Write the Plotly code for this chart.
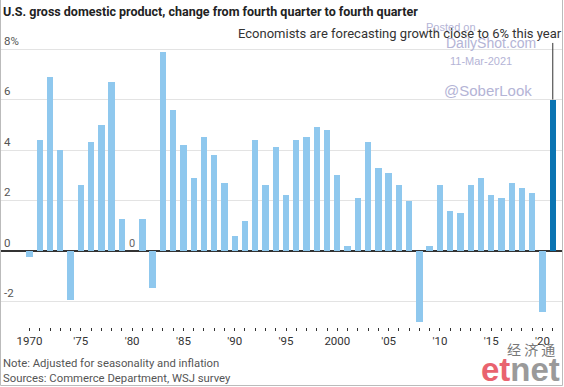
import plotly.graph_objects as go

years = list(range(1970, 2022))
gdp_change = [
    -0.25, 4.4, 6.9, 4.0, -1.95, 2.6, 4.3, 5.0, 6.7, 1.25,
    0.0, 1.25, -1.45, 7.9, 5.6, 4.2, 2.9, 4.5, 3.8, 2.7,
    0.6, 1.2, 4.4, 2.6, 4.1, 2.2, 4.4, 4.5, 4.9, 4.8,
    3.0, 0.2, 2.1, 4.3, 3.3, 3.1, 2.6, 2.0, -2.8, 0.2,
    2.6, 1.6, 1.5, 2.6, 2.9, 2.2, 2.1, 2.7, 2.5, 2.3,
    -2.4, 6.0,
]
forecast_year = 2021
x_tick_years = years
x_tick_labels = {1970: "1970", 1975: "'75", 1980: "'80", 1985: "'85", 1990: "'90",
                 1995: "'95", 2000: "2000", 2005: "'05", 2010: "'10", 2015: "'15", 2020: "'20"}
y_tick_vals = [-2, 0, 2, 4, 6, 8]
y_tick_text = ["-2", "0", "2", "4", "6", "8%"]

LIGHT = "#8fc8ee"
DARK = "#0b74b2"
colors = [DARK if y == forecast_year else LIGHT for y in years]

FONT = "Roboto"
WM = "#b4b4d6"

fig = go.Figure()
fig.add_trace(go.Bar(x=years, y=gdp_change, marker=dict(color=colors, line=dict(width=0)),
                     width=0.62, hoverinfo="x+y"))

W, H = 564, 387
ml, mr, mt, mb = 1, 2, 28, 60
pw, ph = W - ml - mr, H - mt - mb

def px_x(px):
    return (px - ml) / pw

def px_y(py):
    return (H - mb - py) / ph

def wm(text, cx, cy, size):
    return dict(text=text, x=px_x(cx), y=px_y(cy), xref="paper", yref="paper",
                xanchor="center", yanchor="middle", showarrow=False,
                font=dict(family="Liberation Sans, Arial", size=size, color=WM))

annotations = [
    dict(text="U.S. gross domestic product, change from fourth quarter to fourth quarter",
         x=px_x(1), y=px_y(11), xref="paper", yref="paper", xanchor="left", yanchor="middle",
         showarrow=False, font=dict(family=FONT, size=12.5, color="#222", weight="bold")),
    dict(text="Economists are forecasting growth close to 6% this year",
         x=px_x(564), y=px_y(33), xref="paper", yref="paper", xanchor="right", yanchor="middle",
         showarrow=False, font=dict(family=FONT, size=13, color="#333")),
    dict(text="0", x=1980, y=0, xref="x", yref="y", xanchor="center", yanchor="bottom", yshift=-1,
         showarrow=False, font=dict(family=FONT, size=11, color="#666")),
    dict(text="Note: Adjusted for seasonality and inflation",
         x=px_x(1), y=px_y(363), xref="paper", yref="paper", xanchor="left", yanchor="middle",
         showarrow=False, font=dict(family=FONT, size=11.3, color="#555")),
    dict(text="Sources: Commerce Department, WSJ survey",
         x=px_x(1), y=px_y(379), xref="paper", yref="paper", xanchor="left", yanchor="middle",
         showarrow=False, font=dict(family=FONT, size=11.3, color="#555")),
    wm("Posted on", 451, 27, 11),
    wm("DailyShot.com", 491, 43, 14),
    wm("11-Mar-2021", 481, 61, 11),
    wm("@SoberLook", 488, 90, 15),
    # logo
    dict(text="经 济 通", x=px_x(557), y=px_y(349), xref="paper", yref="paper", xanchor="right",
         yanchor="middle", showarrow=False, font=dict(family="Noto Sans CJK SC", size=14, color="#777")),
    dict(text="<span style='color:#e9636f'>et</span><span style='color:#9a9a9a'>net</span>",
         x=px_x(562), y=px_y(369), xref="paper", yref="paper", xanchor="right", yanchor="middle",
         showarrow=False, font=dict(family="Liberation Sans, Arial", size=33, weight="bold")),
]

shapes = [
    dict(type="line", xref="x", yref="y", x0=forecast_year, x1=forecast_year, y0=6.0, y1=8.24,
         line=dict(color="#333", width=1)),
    # frame
    dict(type="line", xref="paper", yref="paper", x0=px_x(0.5), x1=px_x(0.5), y0=px_y(0), y1=px_y(385.5),
         line=dict(color="#bbb", width=1)),
    dict(type="line", xref="paper", yref="paper", x0=px_x(0.5), x1=px_x(562.5), y0=px_y(385.5), y1=px_y(385.5),
         line=dict(color="#bbb", width=1)),
    dict(type="line", xref="paper", yref="paper", x0=px_x(562.5), x1=px_x(562.5), y0=px_y(0), y1=px_y(385.5),
         line=dict(color="#bbb", width=1)),
]

fig.update_layout(
    width=W, height=H,
    margin=dict(l=ml, r=mr, t=mt, b=mb, pad=0),
    paper_bgcolor="white", plot_bgcolor="white",
    showlegend=False, bargap=0,
    annotations=annotations, shapes=shapes,
    font=dict(family=FONT, color="#333"),
    xaxis=dict(range=[1967.22, 2021.9], tickmode="array", tickvals=x_tick_years,
               ticktext=[x_tick_labels.get(y, "") for y in x_tick_years],
               ticks="outside", ticklen=3, tickwidth=1, tickcolor="#333",
               showgrid=False, zeroline=False, showline=False,
               tickfont=dict(family=FONT, size=11.5, color="#333")),
    yaxis=dict(range=[-3.01, 8.832], tickmode="array", tickvals=y_tick_vals, ticktext=y_tick_text,
               ticklabelposition="inside top", showgrid=True, gridcolor="#e3e3e3", gridwidth=1,
               zeroline=True, zerolinecolor="#333", zerolinewidth=1.5, showline=False, ticks="",
               tickfont=dict(family=FONT, size=11.5, color="#555")),
)

fig.write_html("out.html", config={"displayModeBar": False},
               post_script="document.body.style.margin='0';document.body.style.overflow='hidden';")
